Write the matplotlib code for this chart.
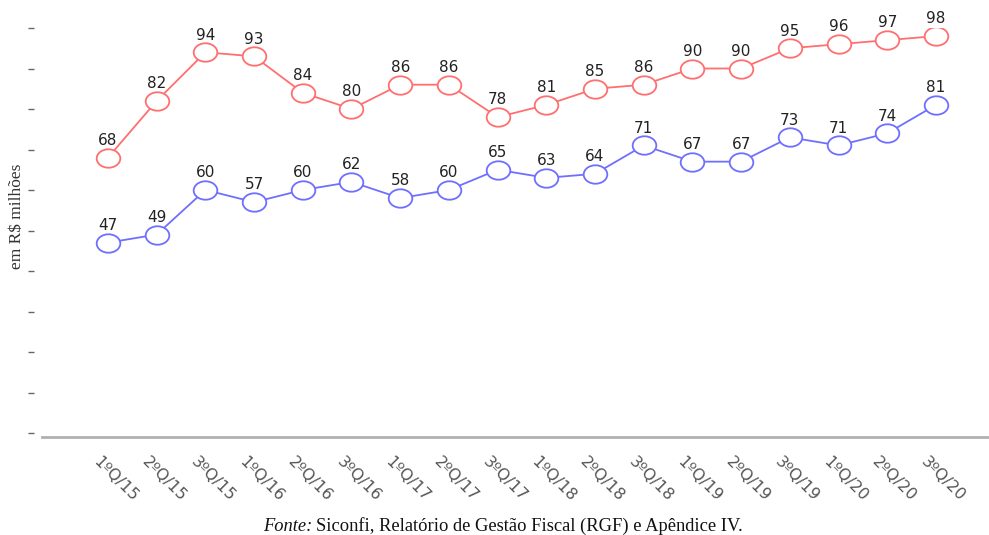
####################################################################
# Grafico de linhas - valores trimestrais (em R$ milhoes)
####################################################################
import numpy as np
import matplotlib.pyplot as plt
from matplotlib.path import Path
import matplotlib.transforms as mtransforms

####################################################################
#### Dados:
quarters = ['1ºQ/15', '2ºQ/15', '3ºQ/15', '1ºQ/16', '2ºQ/16', '3ºQ/16',
            '1ºQ/17', '2ºQ/17', '3ºQ/17', '1ºQ/18', '2ºQ/18', '3ºQ/18',
            '1ºQ/19', '2ºQ/19', '3ºQ/19', '1ºQ/20', '2ºQ/20', '3ºQ/20']
red_vals = [68, 82, 94, 93, 84, 80, 86, 86, 78, 81, 85, 86, 90, 90, 95, 96, 97, 98]
blue_vals = [47, 49, 60, 57, 60, 62, 58, 60, 65, 63, 64, 71, 67, 67, 73, 71, 74, 81]
y_ticks = [0, 10, 20, 30, 40, 50, 60, 70, 80, 90, 100]

red_color = '#ff6f6f'
blue_color = '#6f6fff'

# marcador eliptico (circulo levemente achatado)
circ = Path.unit_circle()
ellipse = Path(circ.vertices * np.array([1.0, 0.78]), circ.codes)

####################################################################
#### Figura:
fig = plt.figure(figsize=(9.89, 5.35), dpi=100)
ax = fig.add_axes([42/989, (535-433)/535, 947/989, 405/535])

x = np.arange(len(quarters))
for vals, col in [(red_vals, red_color), (blue_vals, blue_color)]:
    ax.plot(x, vals, color=col, lw=1.3, marker=ellipse, markersize=17,
            markerfacecolor='white', markeredgecolor=col, markeredgewidth=1.3,
            zorder=3)
    for xi, v in zip(x, vals):
        ax.annotate('%d' % v, (xi, v), xytext=(0, 7), textcoords='offset points',
                    ha='center', va='bottom', fontsize=11, color='#222222')

ax.set_xlim(-1.355, 18.09)
ax.set_ylim(0, 100)

# eixos
for s in ['top', 'right']:
    ax.spines[s].set_visible(False)
ax.spines['left'].set_position(('outward', 6))
ax.spines['left'].set_visible(False)
ax.spines['bottom'].set_position(('outward', 3))
ax.spines['bottom'].set_color('#b0b0b0')
ax.spines['bottom'].set_linewidth(2)

ax.set_yticks(y_ticks)
ax.set_yticklabels([])
ax.tick_params(axis='y', length=4, width=1, color='#666666')

ax.set_xticks(x)
ax.set_xticklabels(quarters, rotation=-45, ha='left', rotation_mode='anchor',
                   fontsize=11.5, color='#555555')
ax.tick_params(axis='x', length=0, pad=12)
offset = mtransforms.ScaledTranslation(-7/100, 0, fig.dpi_scale_trans)
for lab in ax.get_xticklabels():
    lab.set_transform(lab.get_transform() + offset)

ax.set_ylabel('em R$ milhões', family='Liberation Serif', fontsize=12.5,
              color='#333333')
ax.yaxis.set_label_coords(-0.018, 0.536)

# fonte
fig.text(312/989, 4/535, 'Fonte:', family='Liberation Serif', style='italic',
         fontsize=13.3, ha='right', va='baseline', color='#111111')
fig.text(316/989, 4/535, 'Siconfi, Relatório de Gestão Fiscal (RGF) e Apêndice IV.',
         family='Liberation Serif', fontsize=13.3, ha='left', va='baseline',
         color='#111111')

fig.savefig('out.png', dpi=100, facecolor='white')
